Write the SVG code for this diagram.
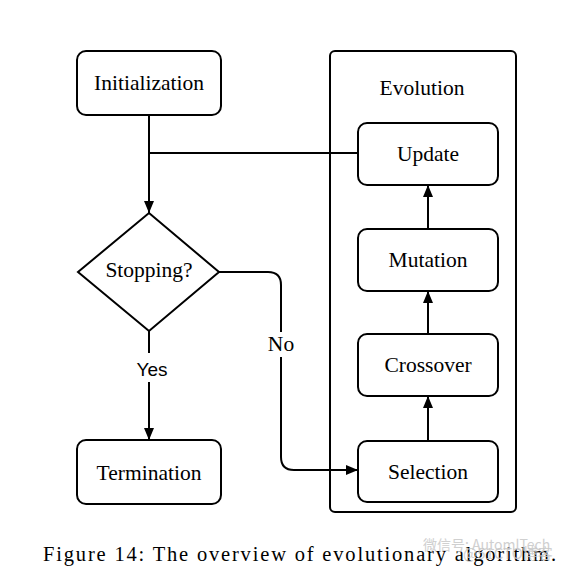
<svg xmlns="http://www.w3.org/2000/svg" width="571" height="570" viewBox="0 0 571 570">
<defs>
<marker id="ah" viewBox="0 0 12 10" refX="12" refY="5" markerWidth="12" markerHeight="10" markerUnits="userSpaceOnUse" orient="auto">
<path d="M0,0 L12,5 L0,10 Z" fill="#000"/>
</marker>
</defs>
<style>
.box{fill:#fff;stroke:#000;stroke-width:2}
.lbl{font-size:21.5px;fill:#000;text-anchor:middle;dominant-baseline:central}
.edge{fill:none;stroke:#000;stroke-width:2}
.sans{font-size:19px;fill:#000;text-anchor:middle;dominant-baseline:central}
.wm{fill:#c8c8c8;opacity:0.85}
</style>
<rect width="571" height="570" fill="#fff"/>
<g font-family="Liberation Serif, Times New Roman, serif">
<g id="evolution">
<rect class="box" x="330" y="51" width="186" height="461" rx="5"/>
<text class="lbl" x="422" y="88">Evolution</text>
</g>
<g id="connectors">
<path class="edge" d="M149,115 V213" marker-end="url(#ah)"/>
<path class="edge" d="M358,153 H149"/>
<path class="edge" d="M149,331 V353 M149,382 V440" marker-end="url(#ah)"/>
<path class="edge" d="M219,272 H268 Q281,272 281,285 V332 M281,357 V457 Q281,470 294,470 H358" marker-end="url(#ah)"/>
<path class="edge" d="M428,441 V396" marker-end="url(#ah)"/>
<path class="edge" d="M428,334 V291" marker-end="url(#ah)"/>
<path class="edge" d="M428,229 V185" marker-end="url(#ah)"/>
<text class="sans" x="152" y="369" font-family="Liberation Sans, Arial, sans-serif">Yes</text>
<text class="lbl" x="281" y="344">No</text>
</g>
<g id="initialization">
<rect class="box" x="77" y="51" width="144" height="64" rx="9"/>
<text class="lbl" x="149" y="83">Initialization</text>
</g>
<g id="stopping">
<polygon class="box" points="149,213 219,272 149,331 78,272"/>
<text class="lbl" x="149" y="270">Stopping?</text>
</g>
<g id="termination">
<rect class="box" x="77" y="440" width="144" height="64" rx="9"/>
<text class="lbl" x="149" y="473">Termination</text>
</g>
<g id="update">
<rect class="box" x="358" y="123" width="140" height="62" rx="9"/>
<text class="lbl" x="428" y="154">Update</text>
</g>
<g id="mutation">
<rect class="box" x="358" y="229" width="140" height="62" rx="9"/>
<text class="lbl" x="428" y="260">Mutation</text>
</g>
<g id="crossover">
<rect class="box" x="358" y="334" width="140" height="62" rx="9"/>
<text class="lbl" x="428" y="365">Crossover</text>
</g>
<g id="selection">
<rect class="box" x="358" y="441" width="140" height="61" rx="9"/>
<text class="lbl" x="428" y="472">Selection</text>
</g>
<text x="43" y="561" font-size="20.5" textLength="513" lengthAdjust="spacing" fill="#000">Figure 14: The overview of evolutionary algorithm.</text>
</g>
<g id="watermark" font-family="Noto Sans CJK SC, Liberation Sans, sans-serif">
<text class="wm" x="423" y="550" font-size="14">微信号: AutomlTech</text>
<text class="wm" x="463" y="559" font-size="15">@51CTO博客</text>
</g>
</svg>
